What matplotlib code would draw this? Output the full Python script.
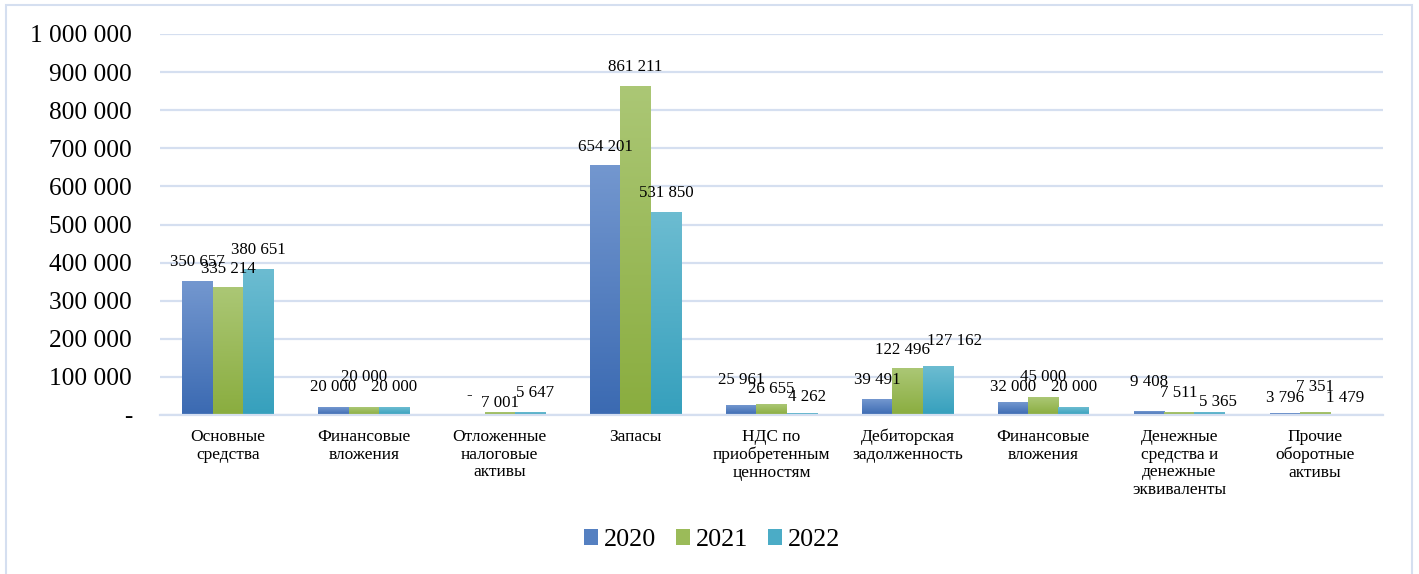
import numpy as np
import matplotlib.pyplot as plt
from matplotlib.patches import Patch, Rectangle
from matplotlib.ticker import FuncFormatter, MultipleLocator

plt.rcParams['font.family'] = ['Liberation Serif', 'DejaVu Serif']

# chart data
categories = ['Основные\nсредства', 'Финансовые\nвложения', 'Отложенные\nналоговые\nактивы',
              'Запасы', 'НДС по\nприобретенным\nценностям', 'Дебиторская\nзадолженность',
              'Финансовые\nвложения', 'Денежные\nсредства и\nденежные\nэквиваленты',
              'Прочие\nоборотные\nактивы']
years = ['2020', '2021', '2022']
values_2020 = [350657, 20000, 0, 654201, 25961, 39491, 32000, 9408, 3796]
values_2021 = [335214, 20000, 7001, 861211, 26655, 122496, 45000, 7511, 7351]
values_2022 = [380651, 20000, 5647, 531850, 4262, 127162, 20000, 5365, 1479]

# label placement tweaks (pixels), mimicking where Excel put them
label_dy = [[19, 20, 20, 19, 25, 20, 16, 29, 16],
            [18, 30, 9, 20, 16, 18, 21, 19, 25],
            [20, 20, 20, 19, 16, 26, 20, 11, 16]]
label_dx = [[0, 0, 0, 0, 0, 0, 0, 0, 0],
            [0, 0, 0, 0, 0, -5, 0, 0, 0],
            [0, 0, 5, 0, 5, 17, 0, 8, 0]]

# (top colour, bottom colour) of each series gradient
grad = [('#7397CF', '#3B6AB2'),
        ('#ABC775', '#8AAD3F'),
        ('#6CBCD1', '#36A0BD')]
mid = ['#5580C1', '#9BBB59', '#4BACC6']


def fmt(v, pos=None):
    if v == 0:
        return '-'
    return '{:,.0f}'.format(v).replace(',', ' ')


def hex2rgb(h):
    return np.array([int(h[i:i + 2], 16) / 255 for i in (1, 3, 5)])


def gradient_bar(ax, x, w, h, top, bottom):
    if h <= 0:
        return
    t = np.linspace(0, 1, 64)[:, None]
    img = hex2rgb(top)[None, :] * (1 - t) + hex2rgb(bottom)[None, :] * t
    ax.imshow(img[:, None, :], extent=(x - w / 2, x + w / 2, 0, h),
              aspect='auto', origin='upper', zorder=3, interpolation='bilinear')


fig = plt.figure(figsize=(14.19, 5.74), dpi=100)
ax = fig.add_axes([160 / 1419, 159 / 574, 1223 / 1419, 381 / 574])

series = [values_2020, values_2021, values_2022]
bw = 0.223
x = np.arange(len(categories))
for k, vals in enumerate(series):
    xs = x + (k - 1) * bw
    for i, v in enumerate(vals):
        gradient_bar(ax, xs[i], bw, v, grad[k][0], grad[k][1])
        ax.annotate(fmt(v), (xs[i], v), xytext=(label_dx[k][i], label_dy[k][i]),
                    textcoords='offset pixels', ha='center', va='center',
                    fontsize=12.2, color='black', zorder=5)

ax.set_xlim(-0.5, len(categories) - 0.5)
ax.set_ylim(0, 1000000)
ax.yaxis.set_major_locator(MultipleLocator(100000))
ax.yaxis.set_major_formatter(FuncFormatter(fmt))
ax.grid(axis='y', color='#D5DFF0', linewidth=1.6, zorder=0)
ax.set_axisbelow(True)
for s in ['top', 'right', 'left']:
    ax.spines[s].set_visible(False)
ax.spines['bottom'].set_color('#D5DFF0')
ax.spines['bottom'].set_linewidth(1.6)
ax.spines['bottom'].set_zorder(4)
ax.tick_params(axis='y', length=0, pad=20, labelsize=18.2)
ax.tick_params(axis='x', length=0, pad=10, labelsize=12.5)
ax.set_xticks(x)
ax.set_xticklabels(categories, linespacing=1.15)

handles = [Patch(facecolor=mid[k], edgecolor='none', label=years[k]) for k in range(3)]
fig.legend(handles=handles, loc='center', bbox_to_anchor=(712 / 1419, 1 - 540 / 574),
           ncol=3, frameon=False, fontsize=18.8, handlelength=0.55, handleheight=0.55,
           handletextpad=0.2, columnspacing=0.77)

# light blue frame around the chart
fig.patches.append(Rectangle((6 / 1419, -0.01), 1406 / 1419, 569 / 574 + 0.01,
                             transform=fig.transFigure, fill=False,
                             edgecolor='#D5DFF0', linewidth=1.5))

plt.savefig('out.png', dpi=100)
